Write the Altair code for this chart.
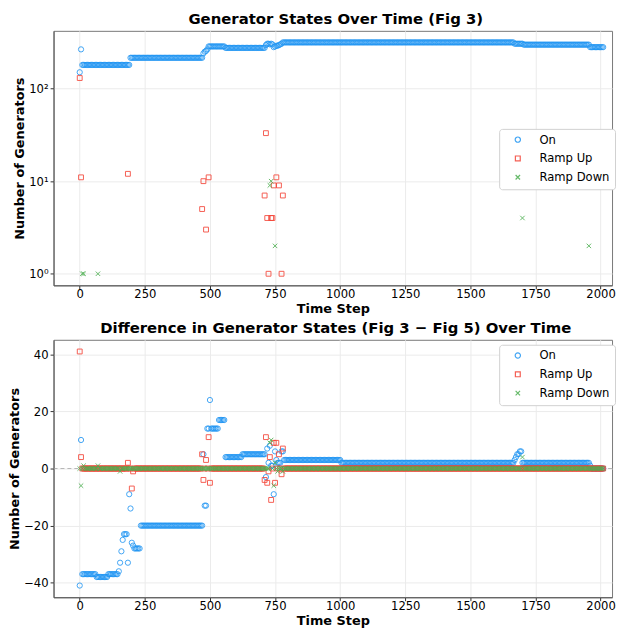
import altair as alt
import pandas as pd

STEP = 5
T_END = 2010
SERIES = ["On", "Ramp Up", "Ramp Down"]
COLORS = ["#2196f3", "#f44336", "#4caf50"]
SHAPES = ["circle", "square", "M-1,-1L1,1M-1,1L1,-1"]
SIZES = [28, 20, 14]

# Fig 3 generator counts: "On" as runs (first step, last step, count)
TOP_ON_RUNS = [
    (0, 0, 150), (5, 5, 265), (10, 190, 180), (195, 470, 215),
    (475, 475, 240), (480, 480, 250), (485, 485, 255), (490, 490, 265),
    (495, 555, 285), (560, 710, 275), (715, 715, 295), (720, 725, 305),
    (730, 730, 300), (735, 735, 305), (740, 740, 300), (745, 745, 280),
    (750, 750, 285), (755, 760, 290), (765, 765, 295), (770, 770, 300),
    (775, 775, 305), (780, 1665, 315), (1670, 1700, 305), (1705, 1955, 298),
    (1960, 2010, 280),
]
# nonzero ramp counts (step: count), zero elsewhere
TOP_RAMP_UP = {0: 130, 5: 11, 185: 12, 470: 5, 475: 10, 485: 3, 495: 11,
               710: 7, 715: 33, 720: 4, 725: 1, 735: 4, 740: 4, 745: 9,
               755: 11, 765: 9, 775: 1, 780: 7}
TOP_RAMP_DOWN = {10: 1, 15: 1, 70: 1, 730: 9, 735: 10, 750: 2, 1700: 4, 1955: 2}

# Difference Fig 3 - Fig 5
DIFF_ON_RUNS = [
    (0, 0, -41), (5, 5, 10), (10, 60, -37), (65, 105, -38), (110, 145, -37),
    (150, 150, -36), (155, 155, -33), (160, 160, -29), (165, 165, -25),
    (170, 180, -23), (185, 185, -33), (190, 190, -9), (195, 195, -14),
    (200, 200, -26), (205, 205, -27), (210, 230, -28), (235, 470, -20),
    (475, 475, 5), (480, 485, -13), (490, 495, 14), (500, 500, 24),
    (505, 530, 14), (535, 555, 17), (560, 620, 4), (625, 710, 5),
    (715, 715, -3), (720, 720, 7), (725, 725, 2), (730, 730, 8),
    (735, 740, 1), (745, 745, -9), (750, 750, 6), (755, 755, 3),
    (760, 770, 2), (775, 780, 6), (785, 1000, 3), (1005, 1665, 2),
    (1670, 1670, 3), (1675, 1675, 4), (1680, 1685, 5), (1690, 1695, 6),
    (1700, 1955, 2), (1960, 1960, 1), (1965, 2010, 0),
]
DIFF_RAMP_UP = {0: 41, 5: 4, 185: 2, 200: -7, 205: -1, 470: 5, 475: -4,
                485: 3, 495: 11, 500: -5, 710: -4, 715: 11, 720: -5, 725: -1,
                730: 4, 735: -11, 745: 9, 750: -5, 755: 9, 765: 5, 775: -2,
                780: 7}
DIFF_RAMP_DOWN = {5: -6, 15: 1, 70: 1, 155: -1, 730: 9, 735: 10, 745: -6,
                  750: 2, 760: -1, 780: -1, 1700: 4}

X_TICKS = [0, 250, 500, 750, 1000, 1250, 1500, 1750, 2000]
TOP_Y_TICKS = [1, 10, 100]
DIFF_Y_TICKS = [-40, -20, 0, 20, 40]

FONT = "DejaVu Sans"


def expand_runs(runs):
    out = {}
    for a, b, v in runs:
        for t in range(a, b + 1, STEP):
            out[t] = v
    return out


steps = list(range(0, T_END + 1, STEP))

top_on = expand_runs(TOP_ON_RUNS)
rows = []
for t in steps:
    rows.append({"t": t, "v": top_on[t], "series": "On"})
for t in steps:
    if TOP_RAMP_UP.get(t, 0) > 0:
        rows.append({"t": t, "v": TOP_RAMP_UP[t], "series": "Ramp Up"})
for t in steps:
    if TOP_RAMP_DOWN.get(t, 0) > 0:
        rows.append({"t": t, "v": TOP_RAMP_DOWN[t], "series": "Ramp Down"})
top_df = pd.DataFrame(rows)

diff_on = expand_runs(DIFF_ON_RUNS)
rows = []
for t in steps:
    rows.append({"t": t, "v": diff_on[t], "series": "On"})
for t in steps:
    rows.append({"t": t, "v": DIFF_RAMP_UP.get(t, 0), "series": "Ramp Up"})
for t in steps:
    rows.append({"t": t, "v": DIFF_RAMP_DOWN.get(t, 0), "series": "Ramp Down"})
diff_df = pd.DataFrame(rows)

W = 564
H1 = 257
H2 = 260
XDOM = [-100.5, 2044]


def legend(lx, ly):
    return alt.Legend(
        title=None, orient="none", legendX=lx, legendY=ly,
        fillColor="white", strokeColor="#d0d0d0", cornerRadius=3,
        padding=5, rowPadding=6, labelFontSize=11.7, labelFont=FONT,
        labelColor="black", symbolOffset=8, labelOffset=16,
        symbolStrokeWidth=1.2,
    )


def points(df, yenc, lx, ly):
    lg = legend(lx, ly)
    return alt.Chart(df).mark_point(filled=False, strokeWidth=1, opacity=0.85).encode(
        x=alt.X("t:Q", scale=alt.Scale(domain=XDOM, nice=False, zero=False),
                axis=alt.Axis(values=X_TICKS, title="Time Step", format="d")),
        y=yenc,
        color=alt.Color("series:N", scale=alt.Scale(domain=SERIES, range=COLORS), legend=lg),
        shape=alt.Shape("series:N", scale=alt.Scale(domain=SERIES, range=SHAPES), legend=lg),
        size=alt.Size("series:N", scale=alt.Scale(domain=SERIES, range=SIZES), legend=lg),
    )


top_y = alt.Y(
    "v:Q",
    scale=alt.Scale(type="log", domain=[0.75, 420], nice=False),
    axis=alt.Axis(values=TOP_Y_TICKS, title="Number of Generators",
                  labelExpr="datum.value == 1 ? '10⁰' : datum.value == 10 ? '10¹' : '10²'"),
)
top = points(top_df, top_y, 450, 99).properties(
    width=W, height=H1,
    title=alt.TitleParams("Generator States Over Time (Fig 3)", dx=3),
)

diff_y = alt.Y(
    "v:Q",
    scale=alt.Scale(domain=[-45.1, 45.1], nice=False, zero=False),
    axis=alt.Axis(values=DIFF_Y_TICKS, title="Number of Generators"),
)
zero_line = alt.Chart(pd.DataFrame({"z": [0]})).mark_rule(
    color="#999999", strokeDash=[4, 3], strokeWidth=1, opacity=0.7
).encode(y=alt.Y("z:Q", scale=alt.Scale(domain=[-45.1, 45.1], nice=False, zero=False)))

bottom = alt.layer(zero_line, points(diff_df, diff_y, 450, 5)).properties(
    width=W, height=H2,
    title=alt.TitleParams("Difference in Generator States (Fig 3 \u2212 Fig 5) Over Time", dx=3),
)

chart = alt.vconcat(top, bottom, spacing=4).resolve_legend(
    color="independent", shape="independent", size="independent"
).resolve_scale(color="independent", shape="independent", size="independent").properties(
    padding=0
).configure(font=FONT).configure_view(
    stroke="#777777", strokeWidth=1
).configure_axis(
    labelFont=FONT, titleFont=FONT, labelFontSize=11.7, titleFontSize=13,
    titleFontWeight="bold", labelColor="black", titleColor="black",
    tickSize=3.5, tickColor="#333333", domainColor="#555555", domainWidth=1,
    gridColor="#ebebeb", gridWidth=1, labelPadding=2, titlePadding=2,
).configure_axisX(titlePadding=2, labelPadding=0).configure_title(
    font=FONT, fontSize=15, fontWeight="bold", color="black", anchor="middle", offset=0,
)

chart.save("out.html", embed_options={"renderer": "svg", "actions": False})
